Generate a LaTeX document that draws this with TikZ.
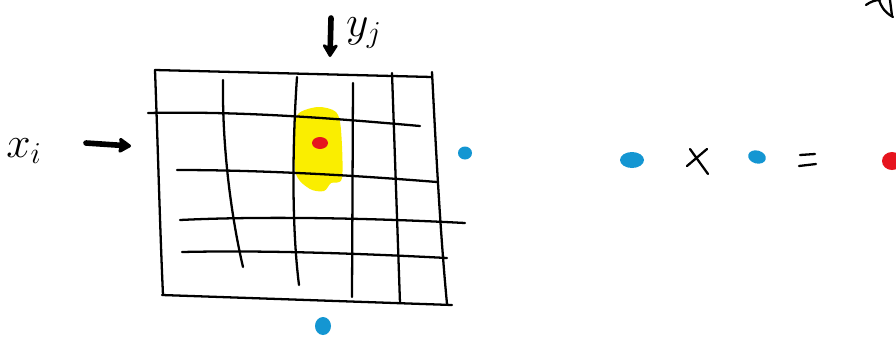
\documentclass[tikz,border=0pt]{standalone}
\usetikzlibrary{arrows.meta}
\definecolor{hlyellow}{RGB}{250,238,0}
\definecolor{dotblue}{RGB}{20,150,210}
\definecolor{dotred}{RGB}{230,20,30}
\tikzset{
  ink/.style={black, line width=1.3pt, line cap=round, line join=round},
  thickink/.style={black, line width=3.2pt, line cap=round, line join=round},
  bluedot/.style={fill=dotblue, draw=none},
  reddot/.style={fill=dotred, draw=none},
  lbl/.style={inner sep=0pt, font=\fontsize{23}{27}\selectfont}
}
\begin{document}
\begin{tikzpicture}[x=0.02cm, y=-0.02cm]
\useasboundingbox[fill=white] (0,0) rectangle (896,336);
% highlight
\fill[hlyellow] plot[smooth cycle] coordinates {(298,114) (318,107) (336,112) (341,130) (342,178) (331,183) (324,191) (310,189) (296,174) (294,135)};
% outer frame
\draw[ink] (155,70) -- (432,77);
\draw[ink] (155,70) .. controls (158,150) and (160,230) .. (163,295);
\draw[ink] (162,295) -- (452,305);
\draw[ink] (432,72) .. controls (436,150) and (440,230) .. (447,304);
% vertical lines
\draw[ink] (223,80) .. controls (222,150) and (232,220) .. (243,267);
\draw[ink] (297,77) .. controls (292,150) and (292,230) .. (299,285);
\draw[ink] (353,83) -- (352,297);
\draw[ink] (392,73) -- (400,303);
% horizontal lines
\draw[ink] (148,113) .. controls (240,111) and (330,118) .. (420,126);
\draw[ink] (177,170) .. controls (260,170) and (350,175) .. (437,182);
\draw[ink] (180,220) .. controls (260,216) and (370,218) .. (465,223);
\draw[ink] (182,252) .. controls (270,250) and (370,254) .. (447,258);
% red dot in cell
\fill[reddot] (320,143) ellipse [x radius=8, y radius=6];
% blue dots
\fill[bluedot] (465,153) ellipse [x radius=7, y radius=6.5];
\fill[bluedot] (323,326) ellipse [x radius=8, y radius=9];
% labels and arrows
\node[lbl] (xi) at (24,151) {$x_i$};
\coordinate (xa) at (86,143);
\coordinate (xb) at (131,146);
\draw[thickink, -{Stealth[length=8pt, width=10pt, round, inset=1pt]}] (xa) -- (xb);
\node[lbl] (yj) at (364,33) {$y_j$};
\coordinate (ya) at (331,18);
\coordinate (yb) at (330,57);
\draw[thickink, -{Stealth[length=9pt, width=11pt, round]}] (ya) -- (yb);
% equation on the right
\fill[bluedot] (632,160) ellipse [x radius=12, y radius=8];
\draw[ink] (690,149) -- (708,174);
\draw[ink] (687,166) -- (707,149);
\fill[bluedot, rotate around={-15:(757,157)}] (757,157) ellipse [x radius=9, y radius=6.5];
\draw[ink] (800,155) -- (815,154);
\draw[ink] (799,166) -- (816,164);
\fill[reddot] (892,161) ellipse [x radius=10, y radius=9];
% clipped stroke at top right
\draw[ink] (866,5) .. controls (870,2) and (875,0) .. (880,0);
\draw[ink] (879,0) .. controls (881,6) and (884,12) .. (893,17);
\draw[ink] (890,0) -- (892,16);
\end{tikzpicture}
\end{document}
